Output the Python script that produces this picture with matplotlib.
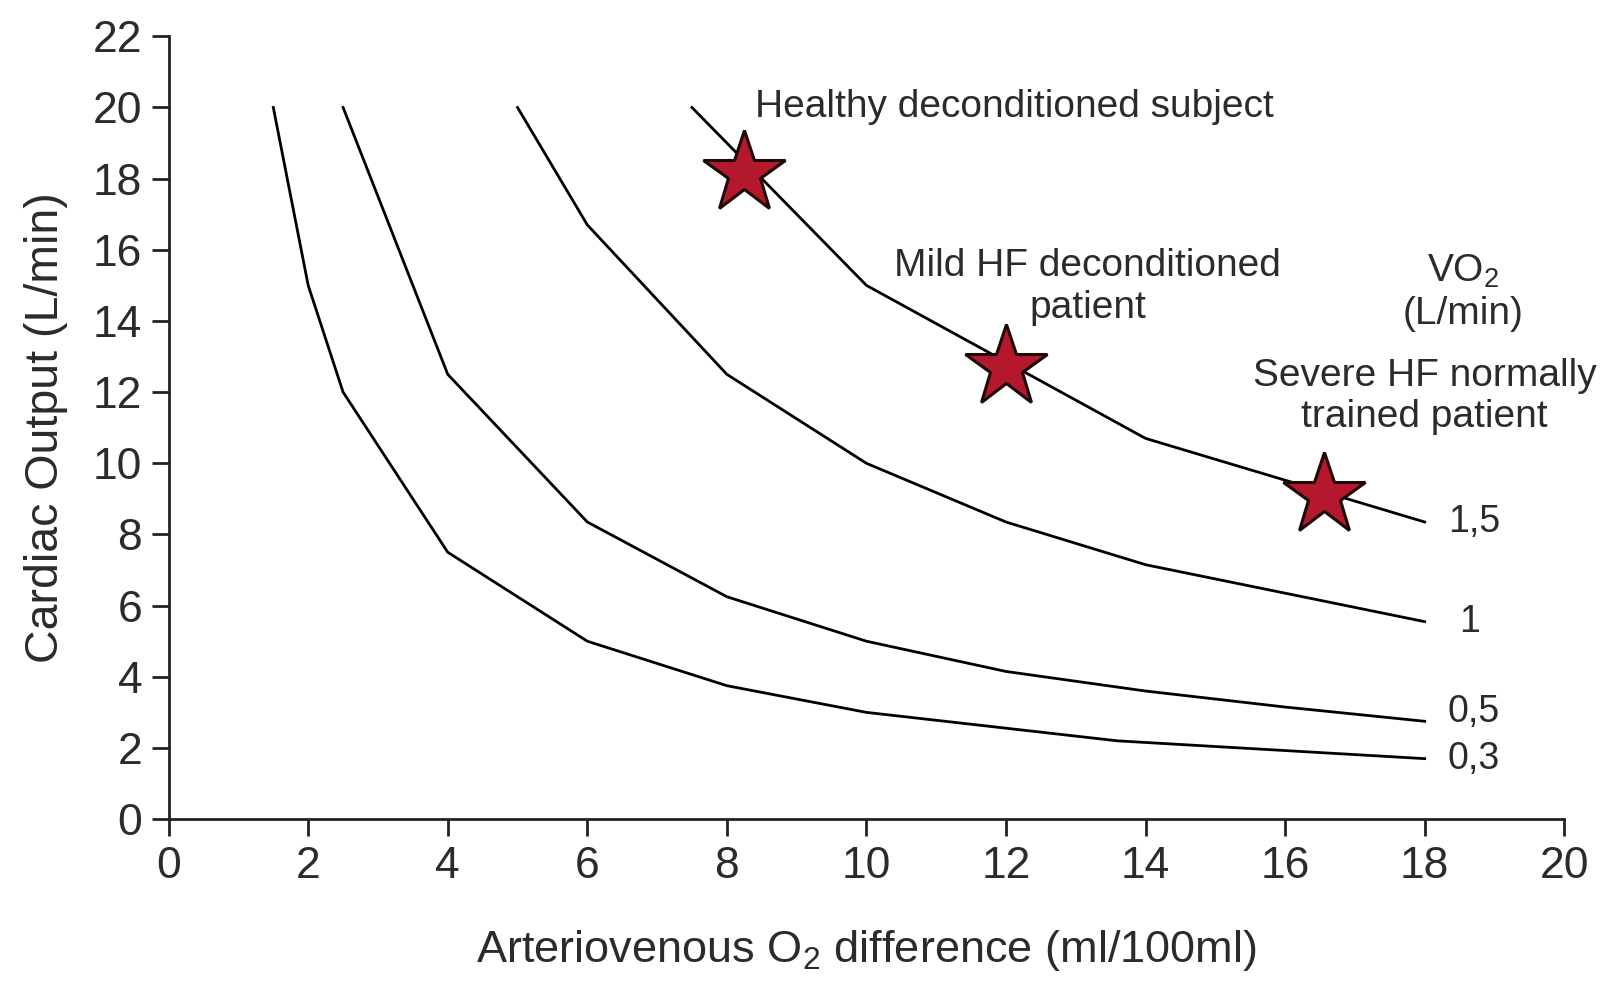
import matplotlib
matplotlib.use('Agg')
import matplotlib.pyplot as plt

# Кривые VO2 = const
avo2_03 = [1.5, 2, 2.5, 4, 6, 8, 10, 13.6, 18]
co_03 = [20, 15, 12, 7.5, 5, 3.75, 3.0, 2.2, 1.7]
avo2_05 = [2.5, 4, 6, 8, 10, 12, 14, 16, 18]
co_05 = [20, 12.5, 8.35, 6.25, 5.0, 4.15, 3.6, 3.15, 2.75]
avo2_1 = [5, 6, 8, 10, 12, 14, 18]
co_1 = [20, 16.7, 12.5, 10, 8.35, 7.15, 5.55]
avo2_15 = [7.5, 10, 14, 18]
co_15 = [20, 15, 10.7, 8.35]

# Пациенты (звёзды)
star_x = [8.25, 12.0, 16.55]
star_y = [18.15, 12.7, 9.1]

x_ticks = list(range(0, 21, 2))
y_ticks = list(range(0, 23, 2))

txt = '#2b2b2b'
plt.rcParams['font.family'] = ['Liberation Sans', 'DejaVu Sans']
plt.rcParams['mathtext.fontset'] = 'custom'
plt.rcParams['mathtext.rm'] = 'Liberation Sans'

fig = plt.figure(figsize=(16.06, 9.81), dpi=100)
ax = fig.add_axes([0.105, 0.165, 0.869, 0.798])

# Линии постоянного потребления кислорода
for xs, ys in [(avo2_03, co_03), (avo2_05, co_05), (avo2_1, co_1), (avo2_15, co_15)]:
    ax.plot(xs, ys, color='k', lw=2, zorder=2)

ax.plot(star_x, star_y, ls='none', marker='*', markersize=62,
        markerfacecolor='#b3182d', markeredgecolor='#1e0808', markeredgewidth=2.2, zorder=3)

ax.set_xlim(0, 20)
ax.set_ylim(0, 22)
ax.set_xticks(x_ticks)
ax.set_yticks(y_ticks)
ax.spines['top'].set_visible(False)
ax.spines['right'].set_visible(False)
for s in ['left', 'bottom']:
    ax.spines[s].set_linewidth(2)
    ax.spines[s].set_color('#222222')
ax.tick_params(length=12, width=2, color='#222222', labelsize=32, labelcolor=txt, pad=7)

ax.set_xlabel(r'Arteriovenous O$_\mathregular{2}$ difference (ml/100ml)', fontsize=32.5, color=txt, labelpad=30)
ax.set_ylabel('Cardiac Output (L/min)', fontsize=33.5, color=txt, labelpad=18)

# Подписи
fs = 28
ax.text(8.4, 20.0, 'Healthy deconditioned subject', fontsize=fs, color=txt, ha='left', va='center')
ax.text(13.17, 14.96, 'Mild HF deconditioned\npatient', fontsize=fs, color=txt, ha='center', va='center', linespacing=1.2)
ax.text(18.55, 14.8, r'VO$_\mathregular{2}$' + '\n(L/min)', fontsize=fs, color=txt, ha='center', va='center', linespacing=1.2)
ax.text(18.0, 11.88, 'Severe HF normally\ntrained patient', fontsize=fs, color=txt, ha='center', va='center', linespacing=1.2)

ax.text(18.33, 8.34, '1,5', fontsize=27, color=txt, ha='left', va='center')
ax.text(18.65, 5.55, '1', fontsize=27, color=txt, ha='center', va='center')
ax.text(18.33, 3.0, '0,5', fontsize=27, color=txt, ha='left', va='center')
ax.text(18.33, 1.7, '0,3', fontsize=27, color=txt, ha='left', va='center')

plt.savefig('out.png', dpi=100)
